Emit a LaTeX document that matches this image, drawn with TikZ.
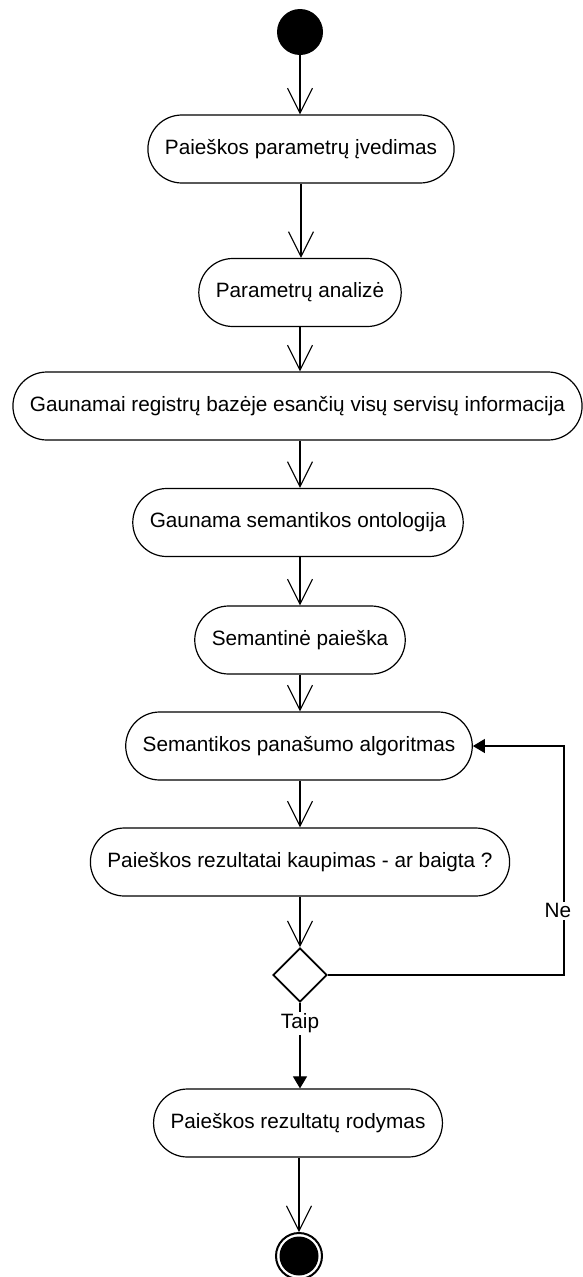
\documentclass[tikz,border=0pt]{standalone}
\usepackage{fontspec}
\setmainfont{Liberation Sans}
\usetikzlibrary{arrows.meta,shapes.geometric}
\begin{document}
\begin{tikzpicture}[x=1pt,y=-1pt,
  every node/.style={font=\fontsize{20.75}{24}\selectfont},
  action/.style={draw,line width=1.2pt,rounded corners=34pt,minimum height=68pt,
    inner xsep=17pt,inner ysep=0pt,fill=white},
  flow/.style={line width=1.1pt,-{Straight Barb[length=25pt,width=25pt,line width=1.1pt]}},
  solidflow/.style={line width=1.1pt,-{Triangle[length=12pt,width=14pt]}},
  decision/.style={draw,diamond,line width=1.8pt,minimum width=54pt,minimum height=54pt,
    inner sep=0pt,aspect=1},
  guard/.style={fill=white,inner sep=2pt}]
\useasboundingbox (0,0) rectangle (583,1277);

% start and end states
\node[circle,fill=black,minimum size=46pt,inner sep=0pt] (start) at (300,32) {};
\node[circle,draw,line width=2pt,minimum size=46pt,inner sep=0pt] (end) at (299,1256) {};
\fill (end.center) circle (19.5pt);

% activities
\node[action] (a1) at (301,149) {Paieškos parametrų įvedimas};
\node[action] (a2) at (300,292.5) {Parametrų analizė};
\node[action] (a3) at (297.5,406) {Gaunamai registrų bazėje esančių visų servisų informacija};
\node[action] (a4) at (298,522.5) {Gaunama semantikos ontologija};
\node[action] (a5) at (300,640) {Semantinė paieška};
\node[action] (a6) at (299,746) {Semantikos panašumo algoritmas};
\node[action] (a7) at (300,862) {Paieškos rezultatai kaupimas - ar baigta ?};
\node[decision] (d) at (300,975) {};
\node[action] (a8) at (298,1123) {Paieškos rezultatų rodymas};

% loop-back corners
\coordinate (loopA) at (564,975);
\coordinate (loopB) at (564,746);

% control flow
\draw[flow] (start) -- (start |- a1.north);
\draw[flow] (a1.south -| 301,0) -- (a2.north -| 301,0);
\draw[flow] (a2.south) -- (a2.south |- a3.north);
\draw[flow] (a3.south -| 300,0) -- (a4.north -| 300,0);
\draw[flow] (a4.south -| 300,0) -- (a5.north);
\draw[flow] (a5.south) -- (a5.south |- a6.north);
\draw[flow] (a6.south -| 300,0) -- (a7.north);
\draw[flow] (a7.south) -- (d.north);
\draw[solidflow] (d.south) -- node[guard,pos=0.24] {Taip} (d.south |- a8.north);
\draw[solidflow] (d.east) -- (loopA) -- node[guard,pos=0.28,xshift=-6pt] {Ne} (loopB) -- (a6.east);
\draw[flow] (a8.south -| 299,0) -- (end.north);
\end{tikzpicture}
\end{document}
